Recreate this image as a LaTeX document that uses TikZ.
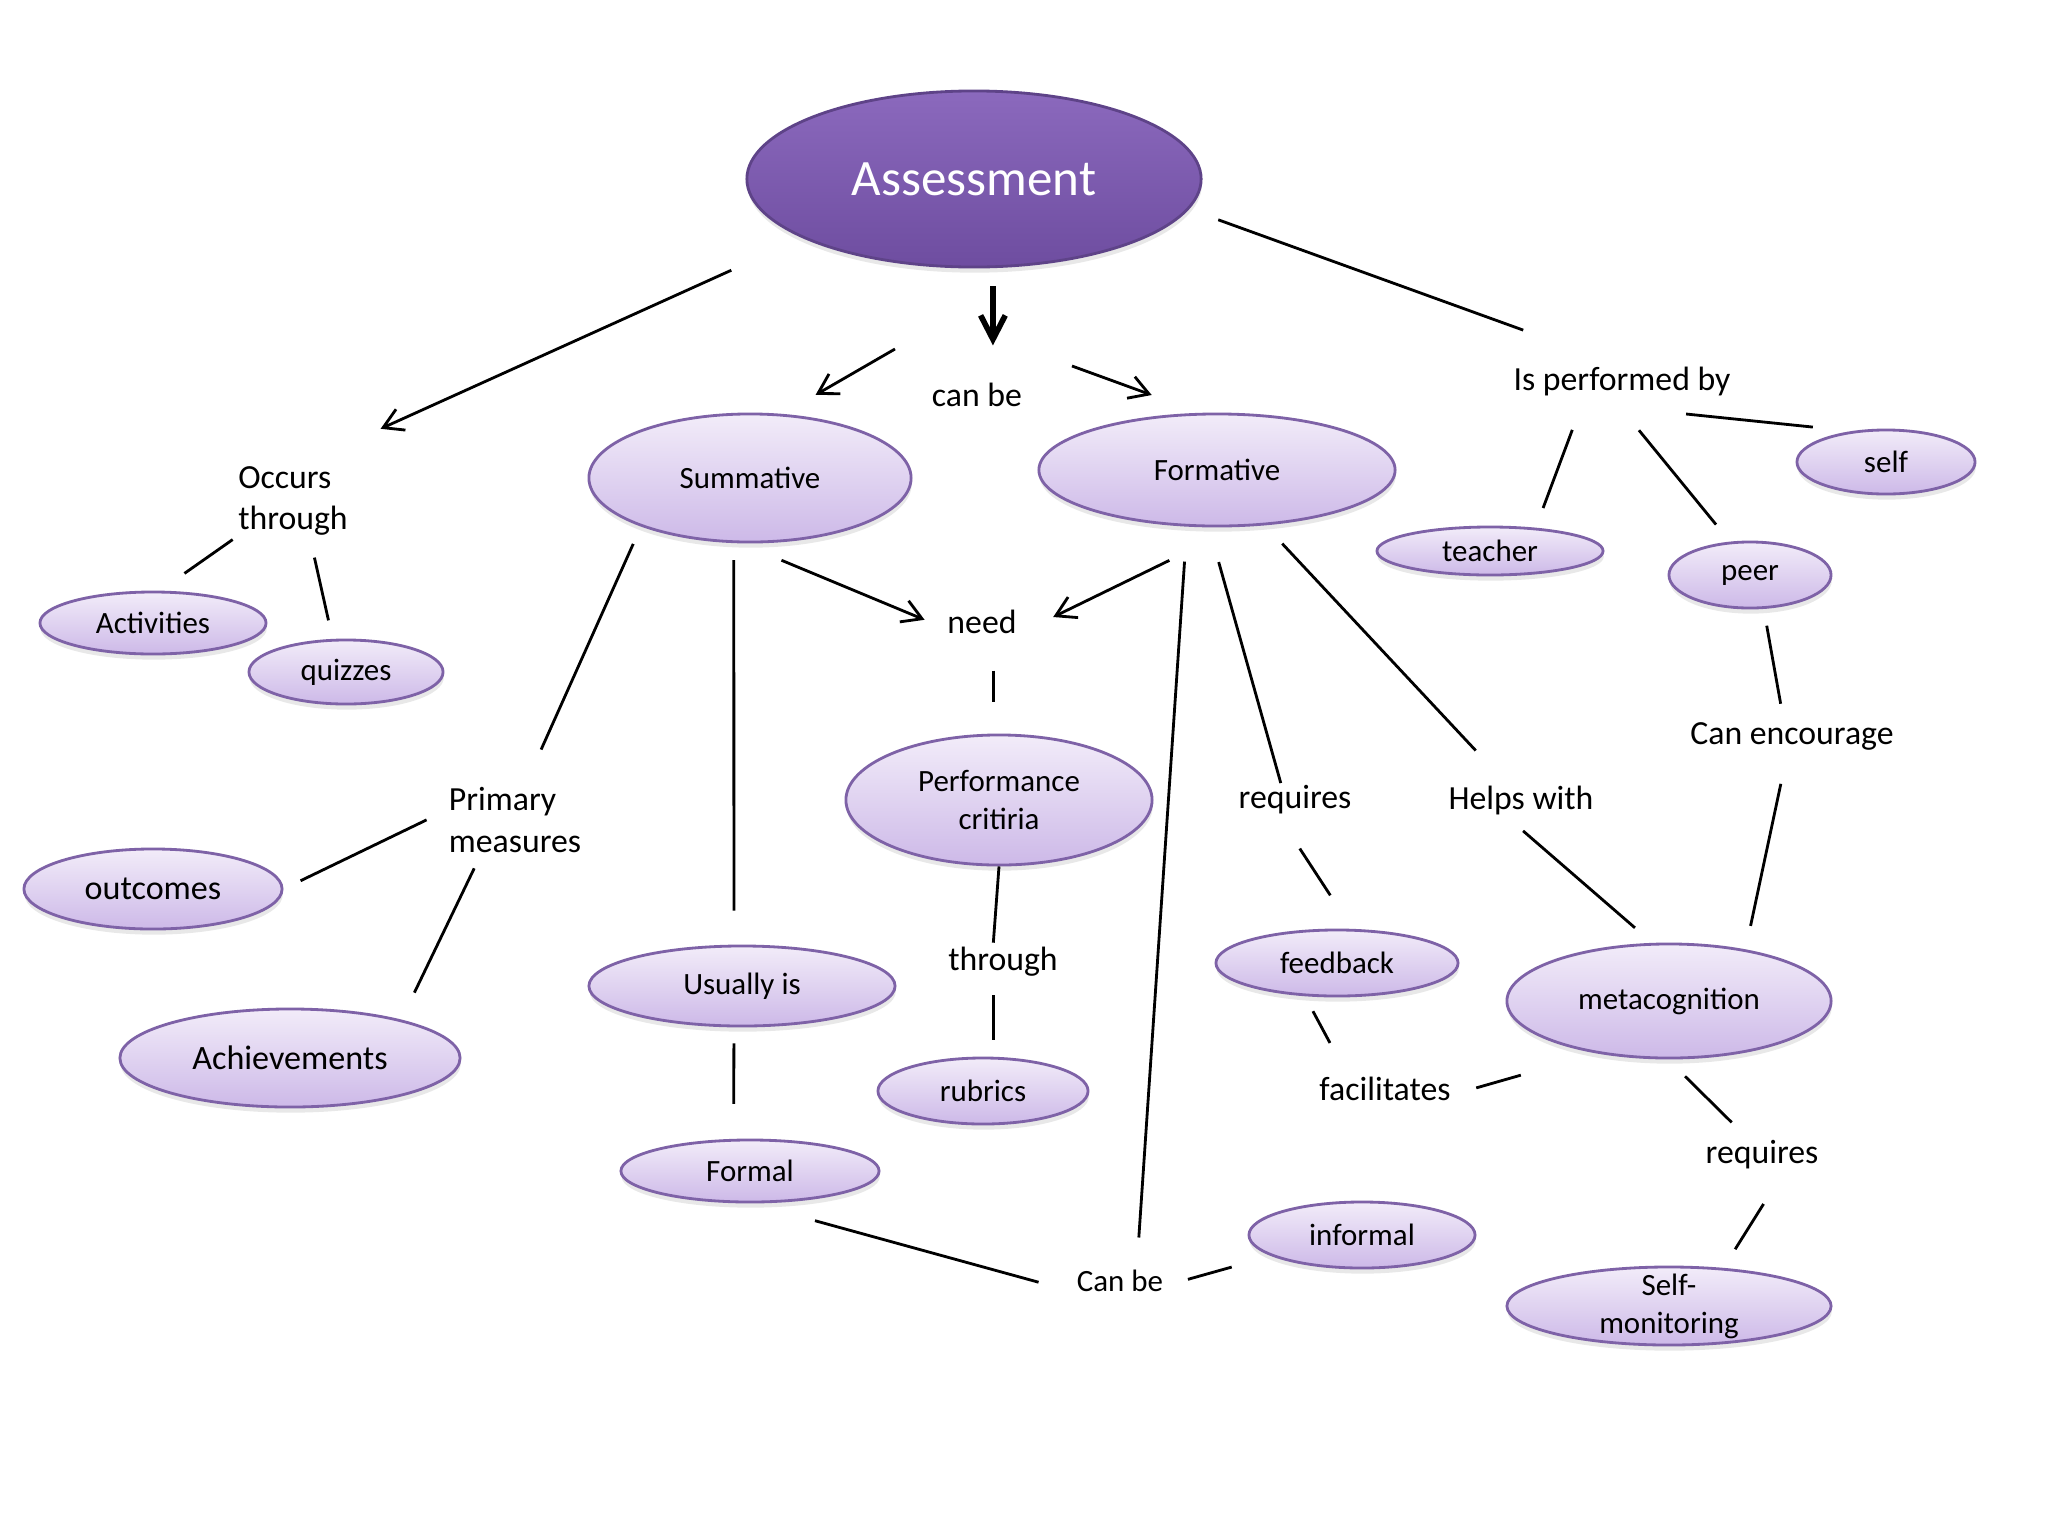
\documentclass[tikz,border=0pt]{standalone}
\usepackage{fontspec}
\setmainfont{Carlito}
\usetikzlibrary{calc}
\usetikzlibrary{arrows.meta}
\usetikzlibrary{shapes.geometric}
\usetikzlibrary{shadows}

\definecolor{nodetop}{HTML}{F2ECF9}
\definecolor{nodebot}{HTML}{CDB9E8}
\definecolor{nodeline}{HTML}{7E62A7}
\definecolor{assesstop}{HTML}{8B69BD}
\definecolor{assessbot}{HTML}{6E4DA0}
\definecolor{assessline}{HTML}{5E4388}

\begin{document}
\begin{tikzpicture} [x=0.01cm, y=-0.01cm,
  concept/.style={ellipse, draw=nodeline, line width=0.8pt, top color=nodetop, bottom color=nodebot,
    inner sep=0pt, align=center, font=\fontsize{8.8}{10.8}\selectfont,
    drop shadow={shadow xshift=0.2pt, shadow yshift=-1.6pt, opacity=0.18}},
  linkword/.style={inner sep=0pt, font=\fontsize{9.6}{11.7}\selectfont},
  conn/.style={line width=0.8pt},
  arr/.style={conn, -{Straight Barb[length=5.5pt, width=6.5pt]}},
  bigarr/.style={line width=1.6pt, -{Straight Barb[length=6.8pt, width=7pt]}}]

\fill[white] (0,0) rectangle (2048,1536);
\useasboundingbox (0,0) rectangle (2048,1536);

\node[concept, top color=assesstop, bottom color=assessbot, draw=assessline, text=white,
  font=\fontsize{14.5}{17}\selectfont, minimum width=4.54cm, minimum height=1.76cm] (assess) at (974,179) {Assessment};
\node[concept, minimum width=3.22cm, minimum height=1.28cm] (summ) at (750,478) {Summative};
\node[concept, minimum width=3.56cm, minimum height=1.12cm] (form) at (1217,470) {Formative};
\node[concept, minimum width=2.26cm, minimum height=0.62cm] (activ) at (153,623) {Activities};
\node[concept, minimum width=1.94cm, minimum height=0.64cm] (quiz) at (346,672) {quizzes};
\node[concept, minimum width=2.26cm, minimum height=0.48cm] (teach) at (1490,551) {teacher};
\node[concept, minimum width=1.62cm, minimum height=0.66cm] (peer) at (1750,575) {peer};
\node[concept, minimum width=1.78cm, minimum height=0.64cm] (self) at (1886,462) {self};
\node[concept, font=\fontsize{9.7}{11.7}\selectfont, minimum width=2.58cm, minimum height=0.80cm] (outc) at (153,889) {outcomes};
\node[concept, font=\fontsize{9.7}{11.7}\selectfont, minimum width=3.40cm, minimum height=0.98cm] (achv) at (290,1058) {Achievements};
\node[concept, minimum width=3.06cm, minimum height=1.30cm] (perf) at (999,800) {Performance\\critiria};
\node[concept, minimum width=3.06cm, minimum height=0.80cm] (usual) at (742,986) {Usually is};
\node[concept, minimum width=2.10cm, minimum height=0.66cm] (rubr) at (983,1091) {rubrics};
\node[concept, minimum width=2.58cm, minimum height=0.62cm] (formal) at (750,1171) {Formal};
\node[concept, minimum width=2.42cm, minimum height=0.66cm] (feed) at (1337,963) {feedback};
\node[concept, minimum width=3.24cm, minimum height=1.14cm] (meta) at (1669,1001) {metacognition};
\node[concept, minimum width=2.26cm, minimum height=0.66cm] (inform) at (1362,1235) {informal};
\node[concept, inner sep=-2pt, minimum width=3.24cm, minimum height=0.78cm] (selfmon) at (1669,1306) {Self-\\monitoring};

\node[linkword] (canbe) at (977,395) {can be};
\node[linkword, align=left] (occurs) at (293,501) {Occurs\\through};
\node[linkword] (perfby) at (1622,381) {Is performed by};
\node[linkword] (need) at (982,622) {need};
\node[linkword, align=left] (prim) at (515,820) {Primary\\measures};
\node[linkword] (req) at (1295,800) {requires};
\node[linkword] (helps) at (1521,800) {Helps with};
\node[linkword] (canenc) at (1792,736) {Can encourage};
\node[linkword] (through) at (1003,962) {through};
\node[linkword] (facil) at (1385,1089) {facilitates};
\node[linkword] (req2) at (1762,1155) {requires};
\node[linkword, font=\fontsize{8.8}{10.8}\selectfont] (canbe2) at (1120,1281) {Can be};

\coordinate (cbL) at (895,349);
\coordinate (cbR) at (1072,366);

\draw[bigarr, shorten <=0.18cm, shorten >=0.37cm] (assess.282) -- (assess.282 |- canbe.north);
\draw[arr, shorten >=0.38cm] (cbL) -- (summ.63);
\draw[arr, shorten >=0.52cm] (cbR) -- (form.106);

\draw[arr, shorten <=0.78cm, shorten >=0.90cm] (assess.199) -- ($(occurs.north west)!0.55!(occurs.north east)$);
\draw[conn, shorten <=0.06cm, shorten >=0.30cm] (occurs.south west) -- (activ.78);
\draw[conn, shorten <=0.22cm, shorten >=0.19cm] ($(occurs.south west)!0.65!(occurs.south east)$) -- (quiz.112);

\draw[conn, shorten <=0.31cm, shorten >=1.05cm] (assess.352) -- (perfby.north);
\draw[conn, shorten <=0.36cm, shorten >=0.21cm] ($(perfby.south west)!0.33!(perfby.south east)$) -- (teach.27);
\draw[conn, shorten <=0.44cm, shorten >=0.22cm] ($(perfby.south west)!0.45!(perfby.south east)$) -- (peer.121);
\draw[conn, shorten <=1.74cm, shorten >=0.39cm] (perfby.south west) -- (self.138);

\draw[conn, shorten <=0.19cm, shorten >=0.41cm] (summ.204) -- ($(prim.north west)!0.57!(prim.north east)$);
\draw[conn, shorten <=0.24cm, shorten >=0.19cm] ($(prim.north west)!0.34!(prim.south west)$) -- (outc.0);
\draw[conn, shorten <=0.17cm, shorten >=0.30cm] ($(prim.south west)!0.25!(prim.south east)$) -- (achv.19);

\draw[conn, shorten <=0.17cm, shorten >=0.34cm] (summ.256) -- (usual.101);
\draw[conn, shorten <=0.16cm, shorten >=0.35cm] (usual.259) -- (formal.117);
\draw[conn, shorten <=0.65cm, shorten >=0.39cm] (formal.274) -- (canbe2.south west);
\draw[conn, shorten <=0.25cm, shorten >=0.41cm] ($(canbe2.north east)!0.72!(canbe2.south east)$) -- (inform.193);
\draw[conn, shorten <=0.35cm, shorten >=0.32cm] (form.242) -- ($(canbe2.north west)!0.69!(canbe2.north east)$);

\draw[arr, shorten <=0.44cm, shorten >=0.24cm] (summ.262) -- ($(need.north west)!0.78!(need.south west)$);
\draw[arr, shorten <=0.76cm, shorten >=0.40cm] (form.290) -- (need.south east);
\draw[conn, shorten <=0.36cm, shorten >=0.32cm] (perf.95 |- need.south) -- (perf.95);
\draw[conn, shorten >=0.04cm] (perf.south) -- ($(through.north west)!0.41!(through.north east)$);
\draw[conn, shorten <=0.18cm, shorten >=0.17cm] (rubr.73 |- through.south) -- (rubr.73);

\draw[conn, shorten <=0.36cm, shorten >=0.02cm] (form.262) -- ($(req.north west)!0.38!(req.north east)$);
\draw[conn, shorten <=0.40cm, shorten >=0.40cm] ($(req.south west)!0.35!(req.south east)$) -- (feed.66);
\draw[conn, shorten <=0.17cm, shorten >=0.38cm] (feed.226) -- ($(facil.north west)!0.22!(facil.north east)$);
\draw[conn, shorten <=0.26cm, shorten >=0.79cm] ($(facil.north east)!0.74!(facil.south east)$) -- (meta.216);

\draw[conn, shorten <=0.25cm, shorten >=0.47cm] (form.311) -- ($(helps.north west)!0.41!(helps.north east)$);
\draw[conn, shorten <=0.24cm, shorten >=0.23cm] ($(helps.south west)!0.39!(helps.south east)$) -- (meta.106);
\draw[conn, shorten <=0.17cm, shorten >=0.18cm] (peer.292) -- ($(canenc.north west)!0.46!(canenc.north east)$);
\draw[conn, shorten <=0.34cm, shorten >=0.24cm] ($(canenc.south west)!0.48!(canenc.south east)$) -- (meta.34);
\draw[conn, shorten <=0.24cm, shorten >=0.25cm] (meta.269) -- ($(req2.north west)!0.39!(req2.north east)$);
\draw[conn, shorten <=0.40cm, shorten >=0.22cm] ($(req2.south west)!0.70!(req2.south east)$) -- (selfmon.35);

\end{tikzpicture}
\end{document}
